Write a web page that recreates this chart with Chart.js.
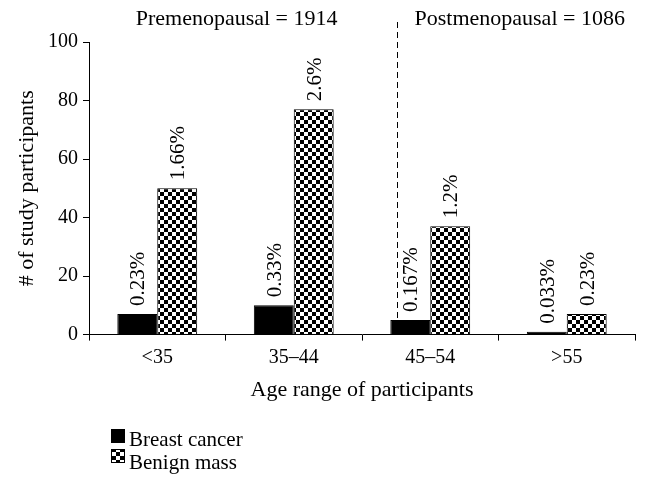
<!DOCTYPE html>
<html>
<head>
<meta charset="utf-8">
<script src="https://cdn.jsdelivr.net/npm/chart.js@4"></script>
<style>
html, body { margin: 0; padding: 0; background: #fff; }
canvas { display: block; }
</style>
</head>
<body>
<canvas id="ageChart" width="651" height="494"></canvas>
<script>
// Values
const ageGroups = ['<35', '35\u201344', '45\u201354', '>55'];
const cancerCounts = [7, 10, 5, 1];
const benignCounts = [50, 77, 37, 7];
const cancerLabels = ['0.23%', '0.33%', '0.167%', '0.033%'];
const benignLabels = ['1.66%', '2.6%', '1.2%', '0.23%'];
const seriesNames = ['Breast cancer', 'Benign mass'];
const groupNotes = ['Premenopausal = 1914', 'Postmenopausal = 1086'];
const yMax = 100;
const yStep = 20;
const dividerAt = 1.76; // category position of the dashed separator

const FONT = '"Liberation Serif", "DejaVu Serif", serif';

const canvas = document.getElementById('ageChart');
const mainCtx = canvas.getContext('2d');

// checkerboard fill for the benign bars
function makeChecker() {
    const c = document.createElement('canvas');
    c.width = 8;
    c.height = 8;
    const g = c.getContext('2d');
    g.fillStyle = '#fff';
    g.fillRect(0, 0, 8, 8);
    g.fillStyle = '#000';
    g.fillRect(0, 0, 4, 4);
    g.fillRect(4, 4, 4, 4);
    return mainCtx.createPattern(c, 'repeat');
}
const checker = makeChecker();

// rotated percentage labels above each bar
const barLabels = {
    id: 'barLabels',
    afterDatasetsDraw(chart) {
        const ctx = chart.ctx;
        const texts = [cancerLabels, benignLabels];
        ctx.save();
        ctx.font = '21px ' + FONT;
        ctx.fillStyle = '#000';
        ctx.textAlign = 'left';
        ctx.textBaseline = 'alphabetic';
        chart.data.datasets.forEach((ds, i) => {
            chart.getDatasetMeta(i).data.forEach((bar, j) => {
                ctx.save();
                ctx.translate(bar.x + 7, bar.y - 8);
                ctx.rotate(-Math.PI / 2);
                ctx.fillText(texts[i][j], 0, 0);
                ctx.restore();
            });
        });
        ctx.restore();
    }
};

// dashed pre/post menopausal separator and its notes
const divider = {
    id: 'divider',
    beforeDatasetsDraw(chart) {
        const ctx = chart.ctx;
        const x = Math.round(chart.scales.x.getPixelForValue(dividerAt)) + 0.5;
        ctx.save();
        ctx.strokeStyle = '#000';
        ctx.lineWidth = 1;
        ctx.setLineDash([6, 4]);
        ctx.beginPath();
        ctx.moveTo(x, 22);
        ctx.lineTo(x, chart.chartArea.bottom);
        ctx.stroke();
        ctx.setLineDash([]);
        ctx.font = '22px ' + FONT;
        ctx.fillStyle = '#000';
        ctx.textBaseline = 'middle';
        ctx.textAlign = 'right';
        ctx.fillText(groupNotes[0], x - 60, 19);
        ctx.textAlign = 'left';
        ctx.fillText(groupNotes[1], x + 17, 19);
        ctx.restore();
    }
};

// stacked legend at the bottom left
const sideLegend = {
    id: 'sideLegend',
    afterDraw(chart) {
        const ctx = chart.ctx;
        ctx.save();
        ctx.font = '21px ' + FONT;
        ctx.textBaseline = 'middle';
        ctx.textAlign = 'left';
        chart.data.datasets.forEach((ds, i) => {
            const top = 429 + i * 20;
            ctx.fillStyle = ds.backgroundColor;
            ctx.fillRect(111, top, 14, 14);
            ctx.strokeStyle = '#000';
            ctx.lineWidth = 1;
            ctx.strokeRect(111.5, top + 0.5, 13, 13);
            ctx.fillStyle = '#000';
            ctx.fillText(ds.label, 129, top + 11 + i * 3);
        });
        ctx.restore();
    }
};

new Chart(mainCtx, {
    type: 'bar',
    data: {
        labels: ageGroups,
        datasets: [
            {
                label: seriesNames[0],
                data: cancerCounts,
                backgroundColor: '#000',
                borderColor: '#000',
                borderWidth: 1
            },
            {
                label: seriesNames[1],
                data: benignCounts,
                backgroundColor: checker,
                borderColor: '#000',
                borderWidth: 1
            }
        ]
    },
    options: {
        responsive: false,
        animation: false,
        devicePixelRatio: 1,
        categoryPercentage: 0.585,
        barPercentage: 1,
        layout: {
            padding: { top: 42, right: 16, left: 0, bottom: 91 }
        },
        plugins: {
            legend: { display: false },
            tooltip: { enabled: false }
        },
        scales: {
            x: {
                grid: {
                    offset: true,
                    drawOnChartArea: false,
                    color: '#000',
                    tickLength: 6
                },
                border: { color: '#000', width: 1 },
                ticks: {
                    color: '#000',
                    font: { family: FONT, size: 20 },
                    padding: 5,
                    maxRotation: 0
                },
                title: {
                    display: true,
                    text: 'Age range of participants',
                    color: '#000',
                    font: { family: FONT, size: 22 },
                    padding: { top: 2, bottom: 0 }
                }
            },
            y: {
                min: 0,
                max: yMax,
                grid: {
                    drawOnChartArea: false,
                    color: '#000',
                    tickLength: 6
                },
                border: { color: '#000', width: 1 },
                ticks: {
                    stepSize: yStep,
                    color: '#000',
                    font: { family: FONT, size: 20 },
                    padding: 5
                },
                title: {
                    display: true,
                    text: '# of study participants',
                    color: '#000',
                    font: { family: FONT, size: 22 },
                    padding: { top: 14, bottom: 0 }
                },
                afterFit(scale) {
                    scale.width = 89;
                }
            }
        }
    },
    plugins: [divider, barLabels, sideLegend]
});
</script>
</body>
</html>
